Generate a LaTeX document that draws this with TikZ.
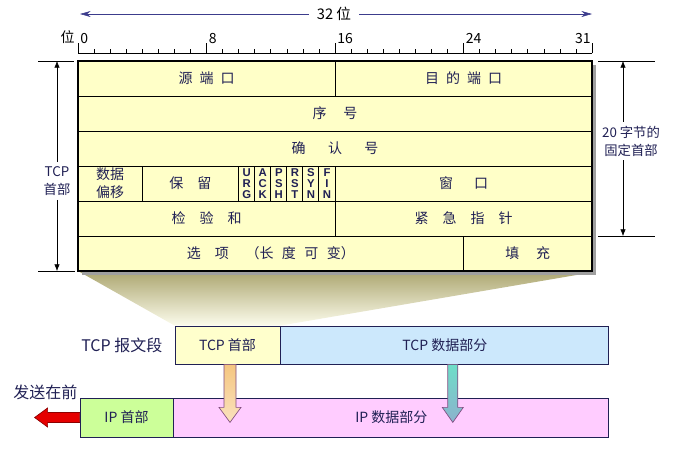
\documentclass[tikz,border=0pt]{standalone}
\usepackage{fontspec}
\setmainfont{Noto Sans CJK SC}
\newfontfamily\flagfont{Liberation Sans}
\usetikzlibrary{calc, arrows.meta, positioning}

\definecolor{inkc}{RGB}{32,32,84}
\definecolor{cellfill}{RGB}{255,255,200}
\definecolor{hdrfill}{RGB}{255,255,204}
\definecolor{datafill}{RGB}{204,232,252}
\definecolor{iphdrfill}{RGB}{204,255,153}
\definecolor{ipdatafill}{RGB}{255,204,255}
\definecolor{bitarrow}{RGB}{60,60,140}
\definecolor{funtop}{RGB}{172,166,112}
\definecolor{funbot}{RGB}{252,252,236}

\tikzset{
  celltxt/.style={inner sep=0pt, text=inkc, font=\fontsize{10.5}{13.5}\selectfont, align=center},
  flagtxt/.style={inner sep=0pt, text=inkc, font=\flagfont\bfseries\fontsize{8.5}{8.25}\selectfont, align=center},
  numtxt/.style={inner sep=0pt, text=black, font=\fontsize{10.5}{12}\selectfont},
  sidelbl/.style={inner sep=3pt, text=inkc, font=\fontsize{10}{13.5}\selectfont, align=center},
  segbox/.style={draw=inkc, line width=0.6pt, inner sep=0pt, text=inkc, font=\fontsize{10.5}{12}\selectfont, minimum height=28.5pt},
  grid/.style={line width=0.75pt},
  blockarrow/.style={draw=gray!60!violet, line width=0.5pt},
}

\begin{document}
\begin{tikzpicture}[x=0.75pt, y=-0.75pt, >={Latex[length=5pt,width=4pt]}]
        \useasboundingbox (0,0) rectangle (679,455);

        % --- PARAMETERS ---
        \def\bx{78} \def\bw{16.0625}

        % --- SEGMENTS (BOTTOM) ---
        \node[segbox, fill=hdrfill, minimum width=78.75pt] (tcphdr) at (227.5,345) {TCP 首部};
        \node[segbox, fill=datafill, minimum width=246pt, anchor=west] (tcpdata) at (tcphdr.east) {TCP 数据部分};
        \node[sidelbl, inner sep=0pt, font=\fontsize{12}{14}\selectfont, left=9pt of tcphdr] (seglbl) {TCP 报文段};
        \node[segbox, fill=iphdrfill, minimum width=69.75pt, minimum height=29.25pt] (iphdr) at (126.5,417.5) {IP 首部};
        \node[segbox, fill=ipdatafill, minimum width=326.25pt, minimum height=29.25pt, anchor=west] (ipdata) at (iphdr.east) {IP 数据部分};
        \node[sidelbl, inner sep=0pt, font=\fontsize{12}{14}\selectfont] (sendlbl) at (45.5,392.5) {发送在前};

        % block arrows
        \coordinate (hdrdrop) at ($(tcphdr.south)+(2.5,0)$);
        \coordinate (datadrop) at ($(tcpdata.south)+(8,0)$);
        \shade[blockarrow, top color={rgb,255:red,245;green,198;blue,128}, bottom color={rgb,255:red,250;green,226;blue,190}]
            (hdrdrop) ++(-6,0) -- ++(0,43) -- ++(-5,0) -- ++(11,15) -- ++(11,-15) -- ++(-5,0) -- ++(0,-43) -- cycle;
        \shade[blockarrow, top color={rgb,255:red,110;green,222;blue,200}, bottom color={rgb,255:red,140;green,178;blue,205}]
            (datadrop) ++(-5,0) -- ++(0,43) -- ++(-5.5,0) -- ++(10.5,15) -- ++(10.5,-15) -- ++(-5.5,0) -- ++(0,-43) -- cycle;
        \fill[red!90!black, draw=red!55!black, line width=0.5pt]
            (iphdr.west) ++(0,-5) -- ++(-32,0) -- ++(0,-4.5) -- ++(-13,9.5) -- ++(13,9.5) -- ++(0,-4.5) -- ++(32,0) -- cycle;

        % --- FUNNEL ---
        \shade[top color=funtop, bottom color=funbot] (78,271) -- (594,272) -- (tcphdr.north east) -- (tcphdr.north west) -- cycle;

        % --- HEADER TABLE ---
        \fill[gray!75] (82,65) rectangle (596,275);
        \fill[cellfill] (78,61) rectangle (592,271);
        \foreach \y in {96,131,166,201,236}
            \draw[grid] (78,\y) -- (592,\y);
        \draw[grid] (335,61) -- (335,96);
        \foreach \b in {4,10,11,...,16}
            \draw[grid] ({\bx+\b*\bw},166) -- ({\bx+\b*\bw},201);
        \draw[grid] (335,201) -- (335,236);
        \draw[grid] ({\bx+24*\bw},236) -- ({\bx+24*\bw},271);
        \draw[line width=1.5pt] (78,61) rectangle (592,271);

        \node[celltxt] (srcport) at (206.5,78.5) {源\hspace{.5em}端\hspace{.5em}口};
        \node[celltxt] (dstport) at (463.5,78.5) {目\hspace{.5em}的\hspace{.5em}端\hspace{.5em}口};
        \node[celltxt] (seqno) at (335,113.5) {序\hspace{1.2em}号};
        \node[celltxt] (ackno) at (335,148.5) {确\hspace{1.6em}认\hspace{1.6em}号};
        \node[celltxt] (offset) at (110,183.5) {数据\\偏移};
        \node[celltxt] (reserved) at (190.4,183.5) {保\hspace{1em}留};
        \foreach \b/\nm/\txt in {10/urg/U\\R\\G, 11/ack/A\\C\\K, 12/psh/P\\S\\H, 13/rst/R\\S\\T, 14/syn/S\\Y\\N, 15/fin/F\\I\\N}
            \node[flagtxt] (\nm) at ({\bx+(\b+0.5)*\bw},184) {\txt};
        \node[celltxt] (window) at (463.5,183.5) {窗\hspace{1.5em}口};
        \node[celltxt] (checksum) at (206.5,218.5) {检\hspace{1em}验\hspace{1em}和};
        \node[celltxt] (urgptr) at (463.5,218.5) {紧\hspace{1em}急\hspace{1em}指\hspace{1em}针};
        \node[celltxt] (options) at (270.75,253.5) {选\hspace{1em}项\hspace{1.2em}（长\hspace{.6em}度\hspace{.6em}可\hspace{.6em}变）};
        \node[celltxt] (padding) at (527.75,253.5) {填\hspace{1.2em}充};

        % --- RULER ---
        \draw (78,53) -- (592,53);
        \foreach \b in {0,...,32}
            \draw ({\bx+\b*\bw},53) -- ++(0,-4);
        \foreach \b in {0,8,16,24,32}
            \draw ({\bx+\b*\bw},53) -- ++(0,-10);
        \foreach \b in {0,8,16,24}
            \node[numtxt, anchor=south west] (bit\b) at ({\bx+\b*\bw+2},44) {\b};
        \node[numtxt, anchor=south east] (bit31) at (591,44) {31};
        \node[numtxt, anchor=south east] (bitlbl) at (75,44) {位};

        \node[numtxt, inner xsep=6pt, font=\fontsize{11}{13}\selectfont] (bitwidth) at (334,14) {32 位};
        \coordinate (bitsL) at (80,14);
        \coordinate (bitsR) at (592,14);
        \draw[bitarrow, -{Stealth[length=8pt,width=4.5pt]}] (bitwidth.west) -- (bitsL);
        \draw[bitarrow, -{Stealth[length=8pt,width=4.5pt]}] (bitwidth.east) -- (bitsR);

        % --- SIDE BRACKETS ---
        \draw (38,61) -- (74,61);
        \draw (38,271) -- (75,271);
        \node[sidelbl] (hdrlbl) at (57,181) {TCP\\首部};
        \coordinate (ltop) at (57,61);
        \coordinate (lbot) at (57,271);
        \draw[->] (hdrlbl.north) -- (ltop);
        \draw[->] (hdrlbl.south) -- (lbot);

        \draw (598,61) -- (655,61);
        \draw (598,236) -- (655,236);
        \node[sidelbl] (fixlbl) at (631,141) {20 字节的\\固定首部};
        \coordinate (rtop) at (623,61);
        \coordinate (rbot) at (623,236);
        \draw[->] (fixlbl.north -| rtop) -- (rtop);
        \draw[->] (fixlbl.south -| rbot) -- (rbot);
\end{tikzpicture}
\end{document}
